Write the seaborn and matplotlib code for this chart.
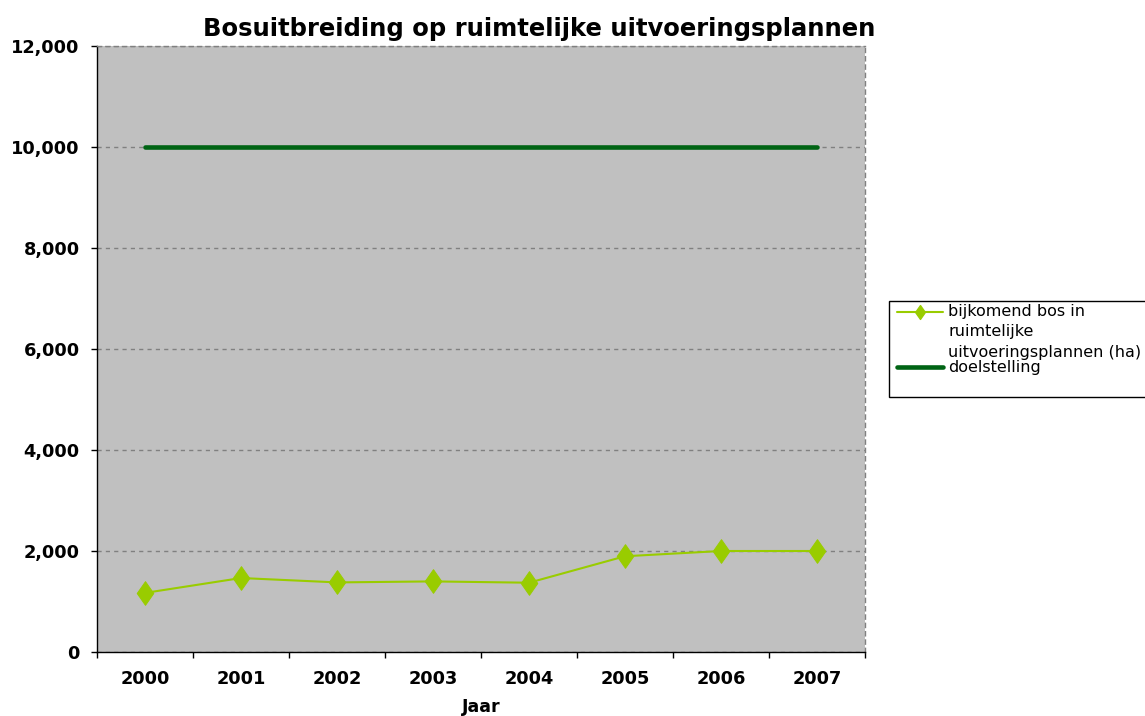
import pandas as pd
import matplotlib.pyplot as plt
import seaborn as sns
from matplotlib.ticker import FuncFormatter, MultipleLocator, FixedLocator
from matplotlib.path import Path
from matplotlib.lines import Line2D
from matplotlib.patches import Rectangle

# data
jaren = [2000, 2001, 2002, 2003, 2004, 2005, 2006, 2007]
bijkomend_bos = [1170, 1465, 1378, 1398, 1372, 1896, 2000, 2000]
doelstelling = [10000, 10000, 10000, 10000, 10000, 10000, 10000, 10000]

df = pd.DataFrame({'Jaar': jaren, 'bos': bijkomend_bos, 'doel': doelstelling})

LIME = '#99cc00'
DONKERGROEN = '#006414'

sns.set_style("white")
plt.rcParams['font.family'] = ['DejaVu Sans']
plt.rcParams['text.color'] = 'black'
plt.rcParams['axes.labelcolor'] = 'black'
plt.rcParams['xtick.color'] = 'black'
plt.rcParams['ytick.color'] = 'black'

# ruit zoals in Excel (iets smaller dan hoog)
ruit = Path([(0, 1), (0.7, 0), (0, -1), (-0.7, 0), (0, 1)],
            [Path.MOVETO, Path.LINETO, Path.LINETO, Path.LINETO, Path.CLOSEPOLY])

fig = plt.figure(figsize=(11.45, 7.16), dpi=100)
ax = fig.add_axes([97 / 1145, 64 / 716, 768 / 1145, 606 / 716])
ax.set_facecolor('#c0c0c0')

sns.lineplot(data=df, x='Jaar', y='bos', ax=ax, color=LIME, linewidth=1.5,
             marker=ruit, markersize=17, markeredgecolor=LIME, legend=False)
sns.lineplot(data=df, x='Jaar', y='doel', ax=ax, color=DONKERGROEN, linewidth=3.3,
             legend=False)

ax.set_xlim(1999.5, 2007.5)
ax.set_ylim(0, 12000)

# y-as
ax.yaxis.set_major_locator(MultipleLocator(2000))
ax.yaxis.set_major_formatter(FuncFormatter(lambda v, p: f'{int(v):,}'))
ax.grid(axis='y', color='#808080', linestyle=(0, (3, 3)), linewidth=1)
ax.tick_params(axis='y', direction='out', length=4.5, width=1,
               labelsize=12.75, pad=8, left=True)

# x-as: streepjes tussen de jaren, labels in het midden
ax.xaxis.set_major_locator(FixedLocator([j - 0.5 for j in jaren] + [2007.5]))
ax.xaxis.set_major_formatter(FuncFormatter(lambda v, p: ''))
ax.xaxis.set_minor_locator(FixedLocator(jaren))
ax.xaxis.set_minor_formatter(FuncFormatter(lambda v, p: str(int(v))))
ax.tick_params(axis='x', which='major', direction='out', length=4.5, width=1,
               bottom=True)
ax.tick_params(axis='x', which='minor', length=0, labelsize=12.75, pad=13)
for lbl in ax.get_yticklabels() + ax.get_xticklabels(minor=True):
    lbl.set_fontweight('bold')

for s in ['left', 'bottom']:
    ax.spines[s].set_color('black')
    ax.spines[s].set_linewidth(1)
for s in ['top', 'right']:
    ax.spines[s].set_color('#808080')
    ax.spines[s].set_linestyle((0, (3, 3)))
    ax.spines[s].set_linewidth(1)

ax.set_xlabel('Jaar', fontsize=12.5, fontweight='bold', labelpad=7)
ax.set_ylabel('')

fig.text(539 / 1145, 1 - 29 / 716, 'Bosuitbreiding op ruimtelijke uitvoeringsplannen',
         ha='center', va='center', fontsize=17.5, fontweight='bold')

# legenda zoals in Excel: kader loopt tot buiten de rand
def fy(py):
    return 1 - py / 716

def fx(px):
    return px / 1145

fig.patches.append(Rectangle((fx(889), fy(397)), fx(300), 96 / 716,
                             transform=fig.transFigure, facecolor='white',
                             edgecolor='black', linewidth=1, zorder=1))
fig.add_artist(Line2D([fx(897), fx(943)], [fy(312), fy(312)], color=LIME,
                      linewidth=1.5, transform=fig.transFigure, zorder=2))
fig.add_artist(Line2D([fx(920)], [fy(312)], color=LIME, marker=ruit,
                      markersize=10, transform=fig.transFigure, zorder=3))
fig.add_artist(Line2D([fx(897), fx(943)], [fy(367), fy(367)], color=DONKERGROEN,
                      linewidth=3.3, solid_capstyle='round',
                      transform=fig.transFigure, zorder=2))
legenda_regels = [('bijkomend bos in', 316.5), ('ruimtelijke', 336.5),
                  ('uitvoeringsplannen (ha)', 356.5), ('doelstelling', 372.5)]
for tekst, py in legenda_regels:
    fig.text(fx(948), fy(py), tekst, ha='left', va='baseline', fontsize=11.5,
             zorder=4)

plt.savefig('out.png', dpi=100)
